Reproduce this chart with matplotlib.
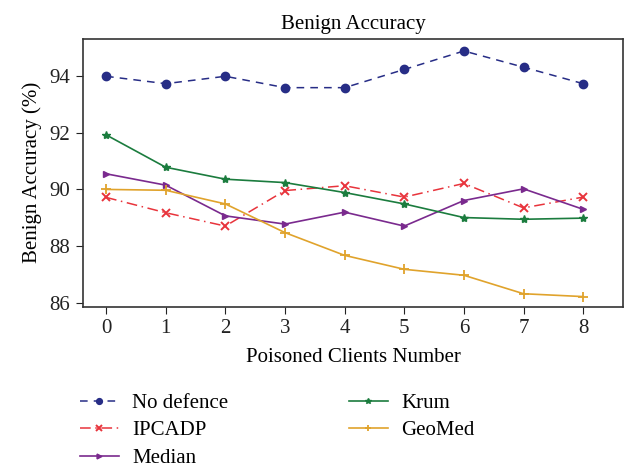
import matplotlib.pyplot as plt

plt.rcParams['font.family'] = ['Liberation Serif', 'DejaVu Serif']

clients = [0, 1, 2, 3, 4, 5, 6, 7, 8]
no_defence = [93.98, 93.72, 93.98, 93.58, 93.58, 94.22, 94.87, 94.30, 93.72]
ipcadp = [89.72, 89.18, 88.71, 89.96, 90.13, 89.73, 90.21, 89.35, 89.73]
median = [90.55, 90.15, 89.07, 88.78, 89.20, 88.71, 89.61, 90.02, 89.30]
krum = [91.92, 90.78, 90.36, 90.24, 89.89, 89.49, 89.01, 88.95, 88.99]
geomed = [90.00, 89.97, 89.49, 88.48, 87.68, 87.19, 86.98, 86.33, 86.23]

fig = plt.figure(figsize=(6.32, 4.67), dpi=100)
ax = fig.add_axes([0.131, 0.343, 0.855, 0.574])

ax.plot(clients, no_defence, color="#272d86", linestyle=(0, (5, 4)), linewidth=1.1,
        marker="o", markersize=6, label="No defence")
ax.plot(clients, ipcadp, color="#e8343c", linestyle=(0, (7, 3, 1, 3)), linewidth=1.1,
        marker="x", markersize=6, markeredgewidth=1.4, label="IPCADP")
ax.plot(clients, median, color="#7a2a8e", linewidth=1.2,
        marker=">", markersize=5, label="Median")
ax.plot(clients, krum, color="#1b7c3e", linewidth=1.2,
        marker="*", markersize=6, label="Krum")
ax.plot(clients, geomed, color="#e0a32c", linewidth=1.2,
        marker="+", markersize=7, markeredgewidth=1.3, label="GeoMed")

ax.set_xlim(-0.39, 8.67)
ax.set_ylim(85.87, 95.3)
ax.set_xticks(clients)
ax.set_yticks([86, 88, 90, 92, 94])
ax.tick_params(labelsize=15, direction="out", length=5, pad=4, colors="#222222")
for s in ax.spines.values():
    s.set_color("#333333")
    s.set_linewidth(1.2)

ax.set_title("Benign Accuracy", fontsize=15, pad=7)
ax.set_xlabel("Poisoned Clients Number", fontsize=15, labelpad=7)
ax.set_ylabel("Benign Accuracy (%)", fontsize=15, labelpad=5)

# legend below the axes, two columns without a frame
fig.legend(loc="upper left", bbox_to_anchor=(0.097, 0.198), ncol=2,
           frameon=False, fontsize=15, handlelength=1.85, handletextpad=0.65,
           columnspacing=5.8, labelspacing=0.38, markerscale=0.7)

fig.savefig("out.png", dpi=100)
